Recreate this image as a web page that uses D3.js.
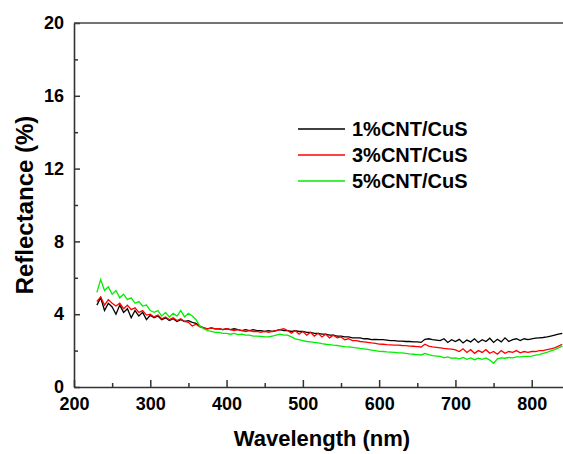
<!DOCTYPE html>
<html>
<head>
<meta charset="utf-8">
<script src="https://cdn.jsdelivr.net/npm/d3@7"></script>
<style>
  body { margin: 0; background: #fff; }
  text { font-family: "Liberation Sans", Arial, sans-serif; font-weight: bold; }
</style>
</head>
<body>
<svg id="chart" width="563" height="454"></svg>
<script>
// wavelength grid (nm), sampled every 5 nm
var wavelengths = d3.range(230, 841, 5);

var seriesNames = ["1%CNT/CuS", "3%CNT/CuS", "5%CNT/CuS"];
var seriesColors = ["#000000", "#ff0000", "#00ee00"];

// reflectance (%)
var refl1 = [
    4.5, 4.9, 4.2, 4.6, 4.4, 4.0, 4.5, 4.1, 4.3, 3.8, 4.2, 3.9, 4.1, 3.7, 3.95,
    3.8, 3.9, 3.7, 3.8, 3.65, 3.75, 3.6, 3.7, 3.6, 3.65, 3.55, 3.5, 3.35, 3.25, 3.2, 3.25, 3.2, 3.2, 3.15, 3.2,
    3.15, 3.2, 3.15, 3.1, 3.15, 3.1, 3.15, 3.1, 3.1, 3.05, 3.1, 3.05, 3.1, 3.15, 3.1, 3.1, 3.05, 3.1, 3.05, 3.05,
    3.0, 3.0, 2.95, 2.95, 2.9, 2.9, 2.85, 2.85, 2.8, 2.8, 2.75, 2.75, 2.7, 2.7, 2.7, 2.65, 2.65, 2.6, 2.62, 2.6,
    2.6, 2.58, 2.55, 2.55, 2.52, 2.52, 2.5, 2.5, 2.48, 2.48, 2.45, 2.62, 2.65, 2.6, 2.58, 2.55, 2.65, 2.45, 2.6, 2.5,
    2.62, 2.42, 2.58, 2.48, 2.65, 2.45, 2.6, 2.5, 2.68, 2.45, 2.62, 2.48, 2.7, 2.5, 2.6, 2.65, 2.55, 2.65, 2.6, 2.65,
    2.68, 2.7, 2.72, 2.75, 2.8, 2.85, 2.9, 2.95
];

var refl3 = [
    4.7, 4.95, 4.5, 4.8, 4.6, 4.45, 4.6, 4.3, 4.5, 4.25, 4.35, 4.1, 4.2, 3.95, 4.0,
    3.85, 3.95, 3.75, 3.85, 3.7, 3.8, 3.65, 3.75, 3.6, 3.55, 3.35, 3.45, 3.3, 3.25, 3.2, 3.25, 3.2, 3.2, 3.15, 3.2,
    3.15, 3.1, 3.15, 3.1, 3.05, 3.1, 3.05, 3.05, 3.0, 3.05, 3.0, 3.05, 3.1, 3.15, 3.2, 3.1, 2.95, 3.1, 2.9, 3.05,
    2.85, 3.0, 2.8, 2.95, 2.75, 2.9, 2.7, 2.85, 2.7, 2.75, 2.6, 2.65, 2.55, 2.55, 2.5, 2.48, 2.45, 2.42, 2.4, 2.36,
    2.35, 2.33, 2.32, 2.3, 2.3, 2.28, 2.27, 2.25, 2.24, 2.22, 2.2, 2.35, 2.25, 2.2, 2.18, 2.15, 2.12, 2.1, 2.08, 2.04,
    1.95, 2.1, 1.9, 2.05, 1.85, 2.0, 1.9, 2.05, 1.85, 1.95, 1.8, 2.0, 1.85, 1.95, 1.9, 2.0, 1.88, 1.95, 1.9, 1.95,
    1.95, 2.0, 2.0, 2.05, 2.1, 2.15, 2.25, 2.35
];

var refl5 = [
    5.2, 5.9, 5.3, 5.5, 5.1, 5.3, 4.9, 5.1, 4.8, 4.9, 4.6, 4.7, 4.45, 4.5, 4.2,
    4.1, 4.2, 3.9, 4.1, 3.85, 4.05, 3.9, 4.2, 3.85, 4.05, 3.9, 3.7, 3.35, 3.2, 3.1, 3.05, 3.0, 3.0, 2.95, 2.95,
    2.9, 2.95, 2.88, 2.9, 2.85, 2.85, 2.8, 2.8, 2.78, 2.75, 2.75, 2.8, 2.85, 2.9, 2.85, 2.85, 2.75, 2.65, 2.6, 2.55,
    2.5, 2.48, 2.45, 2.42, 2.38, 2.35, 2.33, 2.3, 2.28, 2.25, 2.22, 2.2, 2.18, 2.15, 2.12, 2.1, 2.07, 2.03, 2.0, 1.96,
    1.95, 1.93, 1.92, 1.9, 1.88, 1.87, 1.85, 1.82, 1.8, 1.78, 1.76, 1.85, 1.78, 1.72, 1.7, 1.68, 1.6, 1.65, 1.58, 1.6,
    1.55, 1.62, 1.52, 1.6, 1.5, 1.58, 1.52, 1.6, 1.48, 1.3, 1.55, 1.6, 1.58, 1.62, 1.6, 1.65, 1.65, 1.68, 1.68, 1.7,
    1.75, 1.78, 1.85, 1.9, 1.98, 2.05, 2.15, 2.25
];

var xMajorTicks = [200, 300, 400, 500, 600, 700, 800];
var xMinorTicks = [250, 350, 450, 550, 650, 750];
var yMajorTicks = [0, 4, 8, 12, 16, 20];
var yMinorTicks = [2, 6, 10, 14, 18];

var plotLeft = 74, plotRight = 563, plotTop = 23, plotBottom = 387;

var svg = d3.select("#chart");

var x = d3.scaleLinear().domain([200, 841]).range([plotLeft, plotRight]);
var y = d3.scaleLinear().domain([0, 20]).range([plotBottom, plotTop]);

// clip for the data lines
svg.append("clipPath").attr("id", "plotClip")
    .append("rect")
    .attr("x", plotLeft).attr("y", plotTop)
    .attr("width", plotRight - plotLeft).attr("height", plotBottom - plotTop);

var allSeries = [refl1, refl3, refl5];

var line = d3.line()
    .x(function (d) { return x(d[0]); })
    .y(function (d) { return y(d[1]); });

var lines = svg.append("g").attr("clip-path", "url(#plotClip)");
allSeries.forEach(function (vals, i) {
    var pts = wavelengths.map(function (w, j) { return [w, vals[j]]; });
    lines.append("path")
        .datum(pts)
        .attr("fill", "none")
        .attr("stroke", seriesColors[i])
        .attr("stroke-width", 1.3)
        .attr("d", line);
});

// minor ticks
svg.append("g")
    .attr("transform", "translate(0," + plotBottom + ")")
    .call(d3.axisBottom(x).tickValues(xMinorTicks).tickSize(-4).tickFormat(""))
    .call(function (g) { g.select(".domain").remove(); })
    .selectAll("line").attr("stroke", "#333").attr("stroke-width", 1.5);

svg.append("g")
    .attr("transform", "translate(" + plotLeft + ",0)")
    .call(d3.axisLeft(y).tickValues(yMinorTicks).tickSize(-4).tickFormat(""))
    .call(function (g) { g.select(".domain").remove(); })
    .selectAll("line").attr("stroke", "#333").attr("stroke-width", 1.5);

// major ticks + labels
var xAxis = svg.append("g")
    .attr("transform", "translate(0," + plotBottom + ")")
    .call(d3.axisBottom(x).tickValues(xMajorTicks).tickSize(-7).tickPadding(10).tickSizeOuter(0));
xAxis.select(".domain").attr("stroke", "#333").attr("stroke-width", 1.6);
xAxis.selectAll("line").attr("stroke", "#333").attr("stroke-width", 1.5);
xAxis.selectAll("text").style("font-size", "18px").attr("fill", "#000");

var yAxis = svg.append("g")
    .attr("transform", "translate(" + plotLeft + ",0)")
    .call(d3.axisLeft(y).tickValues(yMajorTicks).tickSize(-6).tickPadding(10).tickSizeOuter(0));
yAxis.select(".domain").attr("stroke", "#333").attr("stroke-width", 1.6);
yAxis.selectAll("line").attr("stroke", "#333").attr("stroke-width", 1.5);
yAxis.selectAll("text").style("font-size", "18px").attr("fill", "#000");

// top frame line
svg.append("line")
    .attr("x1", plotLeft).attr("x2", plotRight)
    .attr("y1", plotTop).attr("y2", plotTop)
    .attr("stroke", "#444").attr("stroke-width", 1.6);

// axis titles
svg.append("text")
    .attr("x", 322).attr("y", 446)
    .attr("text-anchor", "middle")
    .style("font-size", "22px")
    .text("Wavelength (nm)");

svg.append("text")
    .attr("transform", "translate(33,205) rotate(-90)")
    .attr("text-anchor", "middle")
    .style("font-size", "24px")
    .text("Reflectance (%)");

// legend
var legendY = [129, 155, 181];
seriesNames.forEach(function (name, i) {
    svg.append("line")
        .attr("x1", 298).attr("x2", 345)
        .attr("y1", legendY[i]).attr("y2", legendY[i])
        .attr("stroke", seriesColors[i]).attr("stroke-width", 1.4);
    svg.append("text")
        .attr("x", 352).attr("y", legendY[i])
        .attr("dy", "0.36em")
        .style("font-size", "20px")
        .text(name);
});
</script>
</body>
</html>
